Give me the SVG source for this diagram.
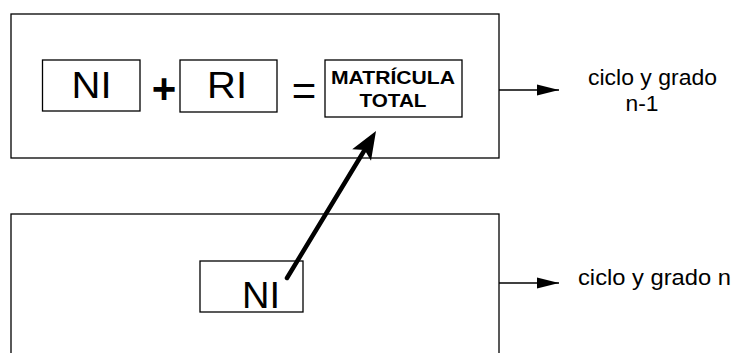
<svg xmlns="http://www.w3.org/2000/svg" width="732" height="353" viewBox="0 0 732 353">
<style>
.frame{fill:none;stroke:#000;stroke-width:1.3}
.box{fill:#fff;stroke:#000;stroke-width:1.3}
.t{font-family:"Liberation Sans",Arial,sans-serif;fill:#000}
.big{font-size:36px}
.op{font-size:42px}
.bold{font-size:19px;font-weight:bold}
.lbl{font-size:21.5px}
.ln{stroke:#000;stroke-width:1.3;fill:none}
</style>
<defs>
<marker id="ah" markerWidth="22" markerHeight="12" refX="22" refY="6" orient="auto" markerUnits="userSpaceOnUse">
<path d="M0,0.5 L22,6 L0,11.5 Z" fill="#000"/>
</marker>
</defs>
<g id="top-frame">
<rect class="frame" x="11" y="14" width="488" height="144"/>
</g>
<g id="bottom-frame">
<rect class="frame" x="11" y="214" width="488" height="170"/>
</g>
<g id="ni-top">
<rect class="box" x="42.5" y="60" width="97.5" height="51"/>
<text class="t big" x="91.5" y="98" text-anchor="middle" textLength="40" lengthAdjust="spacingAndGlyphs">NI</text>
</g>
<g id="plus">
<text class="t op" x="164" y="103" text-anchor="middle" font-weight="bold" font-size="38">+</text>
</g>
<g id="ri">
<rect class="box" x="180" y="60" width="97" height="52"/>
<text class="t big" x="227" y="98" text-anchor="middle" textLength="40" lengthAdjust="spacingAndGlyphs">RI</text>
</g>
<g id="equals">
<text class="t op" x="304" y="105" text-anchor="middle">=</text>
</g>
<g id="matricula">
<rect class="box" x="325" y="60" width="137" height="57"/>
<text class="t bold" x="393" y="84" text-anchor="middle" textLength="124" lengthAdjust="spacingAndGlyphs">MATRÍCULA</text>
<text class="t bold" x="393" y="107" text-anchor="middle" textLength="67" lengthAdjust="spacingAndGlyphs">TOTAL</text>
</g>
<g id="ni-bottom">
<rect class="box" x="200" y="261" width="103" height="51"/>
<text class="t big" x="261" y="308" text-anchor="middle" textLength="38" lengthAdjust="spacingAndGlyphs">NI</text>
</g>
<g id="label-top">
<text class="t lbl" x="652.5" y="85" text-anchor="middle" textLength="129" lengthAdjust="spacingAndGlyphs">ciclo y grado</text>
<text class="t lbl" x="642" y="111" text-anchor="middle" textLength="33" lengthAdjust="spacingAndGlyphs">n-1</text>
</g>
<g id="label-bottom">
<text class="t lbl" x="578" y="285" textLength="153" lengthAdjust="spacingAndGlyphs">ciclo y grado n</text>
</g>
<g id="connectors">
<line class="ln" x1="499" y1="90" x2="559" y2="90" marker-end="url(#ah)"/>
<line class="ln" x1="499" y1="283" x2="559" y2="283" marker-end="url(#ah)"/>
<line x1="287" y1="278" x2="364" y2="151" stroke="#000" stroke-width="4.5" stroke-linecap="round"/>
<path d="M376,131 L371,160.7 L364.7,149.9 L352.2,149.3 Z" fill="#000"/>
</g>
</svg>
